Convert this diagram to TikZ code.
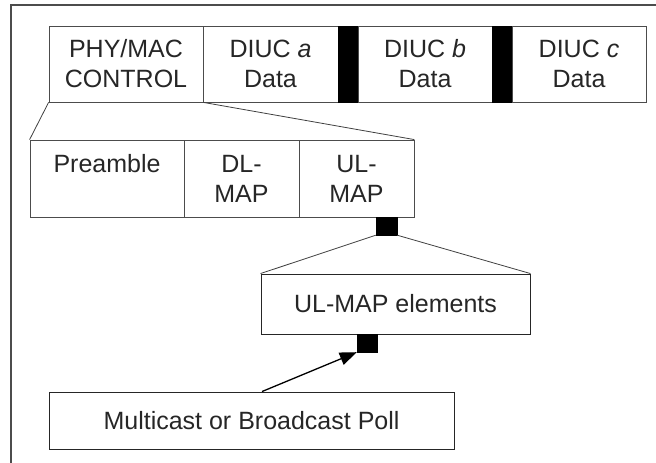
\documentclass[tikz,border=0pt]{standalone}
\usepackage{fontspec}
\setmainfont{Liberation Sans}
\usepackage{tikz}
\usetikzlibrary{positioning,arrows.meta}

\begin{document}
\begin{tikzpicture}[x=1pt, y=-1pt,
		cell/.style={draw=black!70, line width=0.8pt, inner sep=0pt, align=center, text=black!85, font=\fontsize{25}{30}\selectfont},
		bar/.style={draw=black, fill=black, inner sep=0pt},
		box/.style={draw=black!85, line width=0.9pt, inner sep=0pt, text=black!85, font=\fontsize{25}{30}\selectfont},
		link/.style={draw=black!75, line width=0.8pt}]
				\useasboundingbox (0,0) rectangle (656,463);
				\draw[black!70, line width=1.3pt] (11,463) -- (11,5) -- (656,5);
				% frame
				\node[cell, minimum width=154pt, minimum height=76pt] (phymac) at (126,64) {PHY/MAC\\CONTROL};
				\node[cell, minimum width=135pt, minimum height=76pt] (diuca) at (270.5,64) {DIUC \textit{a}\\Data};
				\node[bar, minimum width=20pt, minimum height=76pt] (bara) at (348,64) {};
				\node[cell, minimum width=134pt, minimum height=76pt] (diucb) at (425,64) {DIUC \textit{b}\\Data};
				\node[bar, minimum width=20pt, minimum height=76pt] (barb) at (502,64) {};
				\node[cell, minimum width=134pt, minimum height=76pt] (diucc) at (579,64) {DIUC \textit{c}\\Data};
				% control part
				\node[cell, minimum width=154pt, minimum height=77pt] (preamble) at (107,178.5) {Preamble\\~};
				\node[cell, minimum width=115pt, minimum height=77pt] (dlmap) at (241.5,178.5) {DL-\\MAP};
				\node[cell, minimum width=115pt, minimum height=77pt] (ulmap) at (356.5,178.5) {UL-\\MAP};
				\draw[link] (phymac.south west) -- (preamble.north west);
				\draw[link] (phymac.south east) -- (ulmap.north east);
				% UL-MAP
				\node[bar, minimum width=21pt, minimum height=18pt] (ulsq) at (386.5,226) {};
				\node[box, minimum width=269pt, minimum height=60pt] (ulel) at (395.5,304) {UL-MAP elements};
				\draw[link] (ulsq.south west) -- (ulel.north west);
				\draw[link] (ulsq.south east) -- (ulel.north east);
				\node[bar, minimum width=20pt, minimum height=18pt] (pollsq) at (367,343) {};
				\node[box, minimum width=405pt, minimum height=57pt] (poll) at (251.5,420.5) {Multicast or Broadcast Poll};
				\draw[-{Triangle[length=17pt,width=13pt]}, line width=1.3pt] ([xshift=10.5pt]poll.north) -- (pollsq.south west);
			\end{tikzpicture}
\end{document}
